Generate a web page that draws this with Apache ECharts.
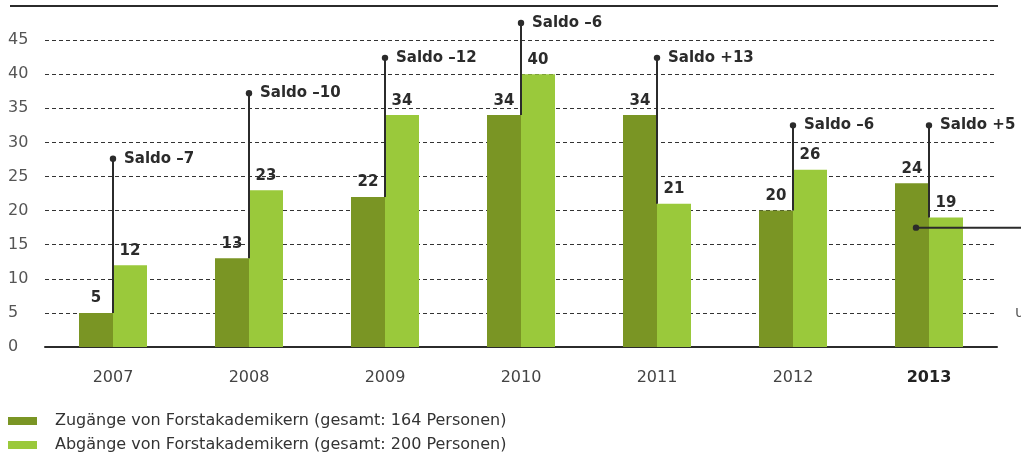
<!DOCTYPE html>
<html>
<head>
<meta charset="utf-8">
<script src="https://cdn.jsdelivr.net/npm/echarts@6/dist/echarts.min.js"></script>
<style>
  html, body { margin: 0; padding: 0; background: #fff; }
  #chart { width: 1021px; height: 455px; }
</style>
</head>
<body>
<div id="chart"></div>
<script>
// Forstakademiker: Zugänge und Abgänge je Jahr
const years = ['2007', '2008', '2009', '2010', '2011', '2012', '2013'];
const zugaenge = [5, 13, 22, 34, 34, 20, 24];
const abgaenge = [12, 23, 34, 40, 21, 26, 19];
// height on the value axis where each "Saldo" pointer ends
const saldoMarker = [27.6, 37.2, 42.4, 47.5, 42.4, 32.5, 32.5];
// pointer leaving the 2013 group towards the right margin
const calloutYear = '2013';
const calloutValue = 17.5;
const yTicks = [0, 5, 10, 15, 20, 25, 30, 35, 40, 45];
const seriesNames = [
  'Zugänge von Forstakademikern (gesamt: 164 Personen)',
  'Abgänge von Forstakademikern (gesamt: 200 Personen)'
];

const FONT = '"DejaVu Sans", "Liberation Sans", sans-serif';
const DARK = '#7a9524';
const LIGHT = '#9ac93b';
const INK = '#2b2b2b';

function fmtSaldo(v) {
  return 'Saldo ' + (v > 0 ? '+' : '–') + Math.abs(v);
}

const saldoData = years.map((y, i) => [i, saldoMarker[i], Math.min(zugaenge[i], abgaenge[i]), zugaenge[i] - abgaenge[i]]);

const chart = echarts.init(document.getElementById('chart'), null, { renderer: 'canvas' });

function legendFor(name, top) {
  return {
    left: 8,
    top: top,
    padding: 0,
    itemWidth: 29,
    itemHeight: 8,
    icon: 'rect',
    selectedMode: false,
    textStyle: { fontFamily: FONT, fontSize: 16, color: '#333', padding: [0, 0, 0, 13] },
    data: [name]
  };
}

const barLabel = {
  show: true, position: 'top', distance: 7,
  fontFamily: FONT, fontSize: 15, fontWeight: 600, color: INK
};

const option = {
  animation: false,
  grid: { left: 45, right: 24, top: 6, bottom: 108, containLabel: false },
  legend: [legendFor(seriesNames[0], 413), legendFor(seriesNames[1], 437)],
  xAxis: {
    type: 'category',
    data: years,
    axisTick: { show: false },
    axisLine: { lineStyle: { color: INK, width: 2 } },
    axisLabel: {
      margin: 23,
      fontFamily: FONT,
      fontSize: 16,
      color: '#444',
      formatter: function (v) { return v === '2013' ? '{b|' + v + '}' : v; },
      rich: { b: { fontFamily: FONT, fontSize: 16, fontWeight: 'bold', color: '#222' } }
    }
  },
  yAxis: {
    type: 'value',
    min: 0,
    max: 50,
    interval: 5,
    axisLine: { show: false },
    axisTick: { show: false },
    axisLabel: {
      align: 'left',
      margin: 37,
      fontFamily: FONT,
      fontSize: 16,
      color: '#555',
      formatter: function (v) { return yTicks.indexOf(v) >= 0 ? String(v) : ''; }
    },
    splitLine: {
      lineStyle: {
        type: [4, 3],
        width: 1,
        color: ['rgba(0,0,0,0)', '#333', '#333', '#333', '#333', '#333', '#333', '#333', '#333', '#333', 'rgba(0,0,0,0)']
      }
    }
  },
  series: [
    {
      name: seriesNames[0],
      type: 'bar',
      data: zugaenge,
      barWidth: 34,
      barGap: '0%',
      itemStyle: { color: DARK, borderWidth: 0 },
      label: barLabel
    },
    {
      name: seriesNames[1],
      type: 'bar',
      data: abgaenge,
      barWidth: 34,
      barGap: '0%',
      itemStyle: { color: LIGHT, borderWidth: 0 },
      label: barLabel
    },
    {
      // Saldo pointers: line from the lower bar top up to a dot with the label
      type: 'custom',
      data: saldoData,
      z: 5,
      renderItem: function (params, api) {
        const top = api.coord([api.value(0), api.value(1)]);
        const bottom = api.coord([api.value(0), api.value(2)]);
        const saldo = api.value(3);
        return {
          type: 'group',
          children: [
            { type: 'line', shape: { x1: top[0], y1: top[1], x2: bottom[0], y2: bottom[1] }, style: { stroke: INK, lineWidth: 2 } },
            { type: 'circle', shape: { cx: top[0], cy: top[1], r: 3.2 }, style: { fill: INK } },
            {
              type: 'text', x: top[0] + 11, y: top[1],
              style: {
                text: fmtSaldo(saldo), fill: INK, fontFamily: FONT, fontSize: 15, fontWeight: 600,
                verticalAlign: 'middle', align: 'left'
              }
            }
          ]
        };
      }
    },
    {
      // pointer from the 2013 group to the right margin
      type: 'custom',
      data: [[years.indexOf(calloutYear), calloutValue]],
      z: 5,
      renderItem: function (params, api) {
        const c = api.coord([api.value(0), api.value(1)]);
        const x = c[0] - 13;
        const right = params.coordSys.x + params.coordSys.width + 30;
        return {
          type: 'group',
          children: [
            { type: 'line', shape: { x1: x, y1: c[1], x2: right, y2: c[1] }, style: { stroke: INK, lineWidth: 2 } },
            { type: 'circle', shape: { cx: x, cy: c[1], r: 3.2 }, style: { fill: INK } }
          ]
        };
      }
    }
  ]
};

chart.setOption(option);

// solid rule at the top of the value range, plus clipped margin note
const topY = chart.convertToPixel({ yAxisIndex: 0 }, 50);
const fiveY = chart.convertToPixel({ yAxisIndex: 0 }, 5);
chart.setOption({
  graphic: [
    { type: 'line', shape: { x1: 10, y1: topY, x2: 998, y2: topY }, style: { stroke: INK, lineWidth: 2 } },
    { type: 'text', x: 1015, y: fiveY, style: { text: 'u', fill: '#555', fontFamily: FONT, fontSize: 15, verticalAlign: 'middle' } }
  ]
});
</script>
</body>
</html>
